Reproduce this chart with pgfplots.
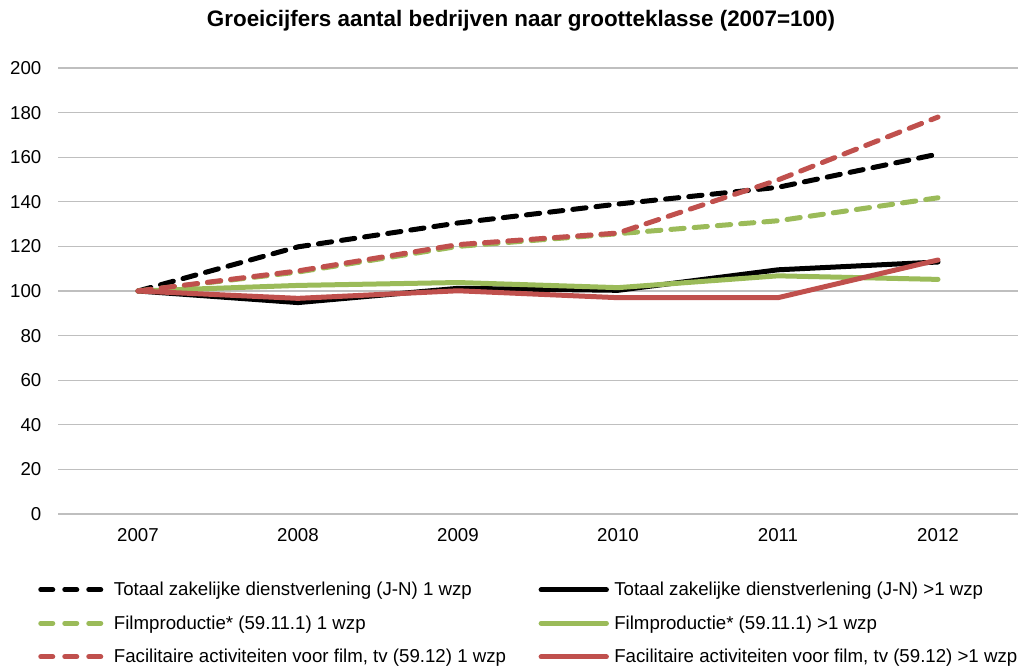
\documentclass[border=0pt]{standalone}
\usepackage{pgfplots}
\pgfplotsset{compat=1.18}
\usepackage{fontspec}
\setmainfont{Liberation Sans}
\definecolor{cgreen}{HTML}{9BBB59}
\definecolor{cred}{HTML}{C0504D}
\definecolor{cgrid}{HTML}{BFBFBF}
\begin{document}
\begin{tikzpicture}
\begin{axis}[
  at={(43.5pt,114pt)}, anchor=south west,
  scale only axis, width=720pt, height=334.5pt,
  xmin=2006.5, xmax=2012.5, ymin=0, ymax=200,
  xtick={2007,2008,2009,2010,2011,2012},
  xticklabels={2007,2008,2009,2010,2011,2012},
  ytick={0,20,...,200},
  ymajorgrids, grid style={cgrid, line width=0.9pt},
  axis x line*=bottom, axis y line*=left,
  x axis line style={cgrid, line width=0.9pt, -},
  y axis line style={draw=none},
  major tick length=0pt,
  tick label style={font=\fontsize{14pt}{16pt}\selectfont},
  /pgf/number format/assume math mode=true,
  yticklabel style={xshift=-9pt},
  xticklabel style={yshift=-7pt},
  every axis plot/.append style={line width=3.75pt, line cap=round, line join=round},
  legend columns=2,
  legend cell align=left,
  legend style={draw=none, at={(-0.025,-0.14)}, anchor=north west,
    font=\fontsize{14pt}{16pt}\selectfont, row sep=9.5pt,
    /tikz/every odd column/.append style={column sep=2pt}},
  legend image code/.code={\draw[#1] (0pt,0pt) -- (49pt,0pt);},
]
\addplot[black, dash pattern=on 10pt off 7.5pt, legend image post style={dash pattern=on 9pt off 9pt}] coordinates {(2007,100) (2008,119.8) (2009,130.5) (2010,139) (2011,146.5) (2012,161.4)};
\addlegendentry{\makebox[316.5pt][l]{Totaal zakelijke dienstverlening (J-N) 1 wzp}}
\addplot[black] coordinates {(2007,100) (2008,94.8) (2009,101.2) (2010,100.3) (2011,109.5) (2012,113)};
\addlegendentry{Totaal zakelijke dienstverlening (J-N) >1 wzp}
\addplot[cgreen, dash pattern=on 10pt off 7.5pt, legend image post style={dash pattern=on 9pt off 9pt}] coordinates {(2007,100) (2008,108.5) (2009,120) (2010,125.7) (2011,131.5) (2012,141.8)};
\addlegendentry{\makebox[316.5pt][l]{Filmproductie* (59.11.1) 1 wzp}}
\addplot[cgreen] coordinates {(2007,100) (2008,102.5) (2009,103.8) (2010,101.5) (2011,106.8) (2012,105.2)};
\addlegendentry{Filmproductie* (59.11.1) >1 wzp}
\addplot[cred, dash pattern=on 10pt off 7.5pt, legend image post style={dash pattern=on 9pt off 9pt}] coordinates {(2007,100) (2008,109) (2009,120.8) (2010,126) (2011,149.8) (2012,178)};
\addlegendentry{\makebox[316.5pt][l]{Facilitaire activiteiten voor film, tv (59.12) 1 wzp}}
\addplot[cred] coordinates {(2007,100) (2008,96.7) (2009,100.1) (2010,97) (2011,97) (2012,113.9)};
\addlegendentry{Facilitaire activiteiten voor film, tv (59.12) >1 wzp}
\end{axis}
\node[font=\bfseries\fontsize{16.8pt}{19pt}\selectfont] at (390.75pt,484pt) {Groeicijfers aantal bedrijven naar grootteklasse (2007=100)};
\pgfresetboundingbox
\path[use as bounding box] (0,0) rectangle (765.75pt,499.5pt);
\end{tikzpicture}
\end{document}
